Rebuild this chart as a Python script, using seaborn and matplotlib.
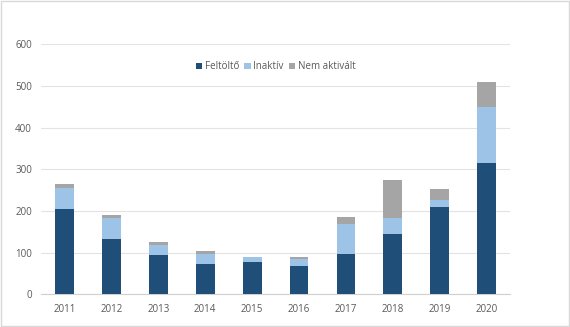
import numpy as np
import pandas as pd
import matplotlib
matplotlib.use("Agg")
import matplotlib.pyplot as plt
import seaborn as sns
from matplotlib.patches import Patch, Rectangle

years = ["2011", "2012", "2013", "2014", "2015", "2016", "2017", "2018", "2019", "2020"]
feltolto = [206, 133, 94, 72, 78, 69, 98, 146, 210, 315]
inaktiv = [50, 51, 24, 24, 12, 15, 71, 38, 16, 135]
nem_aktivalt = [9, 6, 7, 8, 1, 5, 18, 90, 27, 60]
y_ticks = [0, 100, 200, 300, 400, 500, 600]

labels = ["Feltöltő", "Inaktív", "Nem aktivált"]
colors = ["#1F4E79", "#9DC3E6", "#A5A5A5"]

sns.set_theme(style="white")
plt.rcParams["font.family"] = ["Open Sans", "DejaVu Sans"]

df = pd.DataFrame({"year": years, "Feltöltő": feltolto,
                   "Inaktív": inaktiv, "Nem aktivált": nem_aktivalt})
df["top1"] = df["Feltöltő"]
df["top2"] = df["top1"] + df["Inaktív"]
df["top3"] = df["top2"] + df["Nem aktivált"]

fig = plt.figure(figsize=(5.7, 3.27), dpi=100)
ax = fig.add_axes([0.072, 0.0994, 0.823, 0.765])

# stacked bars: draw cumulative totals from the top segment down
for col, c in zip(["top3", "top2", "top1"], colors[::-1]):
    sns.barplot(data=df, x="year", y=col, color=c, width=0.4,
                saturation=1, ax=ax, zorder=3, linewidth=0)

ax.set_ylim(0, 600)
ax.set_yticks(y_ticks)
ax.set_xlim(-0.5, len(years) - 0.5)
ax.set_xlabel("")
ax.set_ylabel("")
ax.grid(axis="y", color="#E3E3E3", linewidth=0.8, zorder=0)
ax.grid(axis="x", visible=False)
for s in ["top", "right", "left"]:
    ax.spines[s].set_visible(False)
ax.spines["bottom"].set_color("#D0D0D0")
ax.spines["bottom"].set_linewidth(0.8)

ax.tick_params(axis="both", labelsize=7, labelcolor="#595959", length=0)
ax.tick_params(axis="y", pad=6.5)
ax.tick_params(axis="x", pad=7)

# category boundary tick marks below the axis
ax.set_xticks(np.arange(-0.5, len(years), 1.0), minor=True)
ax.tick_params(axis="x", which="minor", length=3, color="#D0D0D0", width=0.8)

handles = [Patch(facecolor=c, edgecolor="none") for c in colors]
leg = ax.legend(handles, labels, loc="center", bbox_to_anchor=(0.5, 0.91),
                ncol=3, frameon=False, fontsize=7, handlelength=0.7,
                handleheight=0.7, handletextpad=0.25, columnspacing=0.5)
for t in leg.get_texts():
    t.set_color("#595959")

fig.add_artist(Rectangle((0.001, 0.002), 0.997, 0.995, transform=fig.transFigure,
                         fill=False, edgecolor="#D9D9D9", linewidth=1))

fig.savefig("out.png", dpi=100)
